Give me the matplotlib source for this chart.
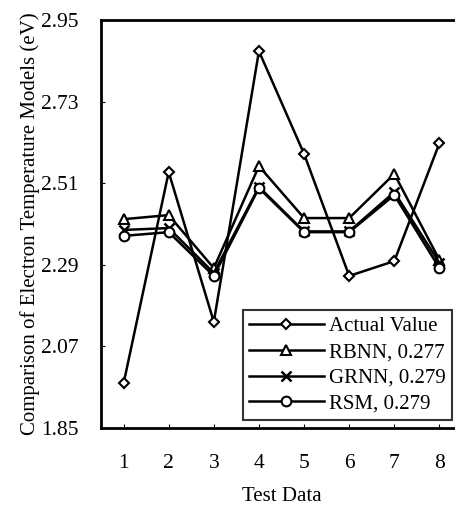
import matplotlib
matplotlib.use("Agg")
import matplotlib.pyplot as plt

test_ids = [1, 2, 3, 4, 5, 6, 7, 8]
actual = [1.97, 2.54, 2.136, 2.866, 2.589, 2.26, 2.30, 2.618]
rbnn = [2.413, 2.424, 2.281, 2.556, 2.416, 2.416, 2.535, 2.303]
grnn = [2.384, 2.389, 2.268, 2.500, 2.380, 2.380, 2.486, 2.295]
rsm = [2.368, 2.378, 2.260, 2.497, 2.378, 2.378, 2.478, 2.281]
yticks = [1.85, 2.07, 2.29, 2.51, 2.73, 2.95]

plt.rcParams['font.family'] = ['Liberation Serif', 'DejaVu Serif']

fig = plt.figure(figsize=(4.56, 5.07), dpi=100)
ax = fig.add_axes([101/456, 1 - 428/507, 361/456, 408/507])

ax.plot(test_ids, actual, color='black', lw=1.8, marker='D', ms=5,
        mfc='white', mec='black', mew=1.5, label='Actual Value')
ax.plot(test_ids, rbnn, color='black', lw=1.8, marker='^', ms=7,
        mfc='white', mec='black', mew=1.5, label='RBNN, 0.277')
ax.plot(test_ids, grnn, color='black', lw=1.8, marker='x', ms=7,
        mfc='white', mec='black', mew=1.8, label='GRNN, 0.279')
ax.plot(test_ids, rsm, color='black', lw=1.8, marker='o', ms=7,
        mfc='white', mec='black', mew=1.5, label='RSM, 0.279')

ax.set_xlim(0.5, 8.5)
ax.set_ylim(1.85, 2.95)
ax.set_yticks(yticks)
ax.set_yticklabels([f"{v:.2f}" for v in yticks])
ax.set_xticks(test_ids)
ax.tick_params(axis='both', direction='in', length=3, width=0.8,
               labelsize=15.5, pad=16)
ax.tick_params(axis='x', pad=19)
for s in ax.spines.values():
    s.set_linewidth(2)

ax.set_ylabel('Comparison of Electron Temperature Models (eV)', fontsize=15, labelpad=1)
ax.set_xlabel('Test Data', fontsize=15, labelpad=10)

leg = ax.legend(loc='lower right', bbox_to_anchor=((452-101)/361, (428-420)/408),
                fontsize=15, frameon=True, fancybox=False, edgecolor='black',
                handlelength=3.6, handletextpad=0.25, borderpad=0.3,
                labelspacing=0.3, borderaxespad=0)
leg.get_frame().set_linewidth(1.5)

fig.savefig('out.png', dpi=100)
